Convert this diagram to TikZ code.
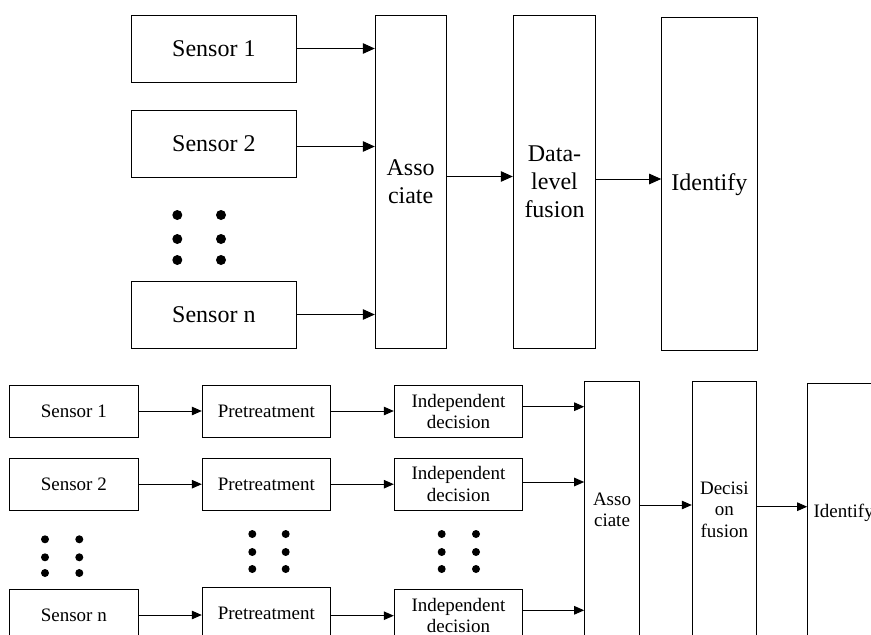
\documentclass[tikz,border=0pt]{standalone}
\usepackage{fontspec}
\setmainfont{Liberation Serif}
\usetikzlibrary{arrows.meta,calc}
\begin{document}
\begin{tikzpicture}[x=1pt,y=-1pt,
  box/.style={draw,line width=1pt,inner sep=0pt,align=center},
  bigtext/.style={font=\fontsize{24}{28}\selectfont},
  smalltext/.style={font=\fontsize{19}{21.5}\selectfont},
  bigarr/.style={line width=1pt,-{Triangle[length=12pt,width=10.5pt]}},
  smallarr/.style={line width=1pt,-{Triangle[length=10pt,width=8.5pt]}},
  dot/.style={fill=black}]
\useasboundingbox (0,0) rectangle (871,635);

% ---------- data-level fusion ----------
\node[box,bigtext,minimum width=164.3pt,minimum height=67pt] (s1) at (213.85,48.5) {Sensor 1};
\node[box,bigtext,minimum width=164.3pt,minimum height=67pt] (s2) at (213.85,143.5) {Sensor 2};
\node[box,bigtext,minimum width=164.3pt,minimum height=67pt] (sn) at (213.85,314.5) {Sensor n};
\node[box,bigtext,minimum width=70.7pt,minimum height=333pt] (as) at (410.65,181.5) {Asso\\ciate};
\node[box,bigtext,minimum width=82.4pt,minimum height=333pt] (dl) at (554.5,181.5) {Data-\\level\\fusion};
\node[box,bigtext,minimum width=95.3pt,minimum height=333pt] (id) at (709.35,184.2) {Identify};

\foreach \x in {177.3,221}
  \foreach \y in {215,239,260}
    \fill[dot] (\x,\y) circle (5pt);

\draw[bigarr] (s1.east) -- (s1.east -| as.west);
\draw[bigarr] ($(s2.east)+(0,3)$) coordinate (a2) -- (a2 -| as.west);
\draw[bigarr] (sn.east) -- (sn.east -| as.west);
\draw[bigarr] ($(as.east)+(0,-5)$) coordinate (a3) -- (a3 -| dl.west);
\draw[bigarr] ($(dl.east)+(0,-2.5)$) coordinate (a4) -- (a4 -| id.west);

% ---------- decision-level fusion ----------
\node[box,smalltext,minimum width=129pt,minimum height=52pt] (bs1) at (73.8,411) {Sensor 1};
\node[box,smalltext,minimum width=129pt,minimum height=52pt] (bs2) at (73.8,484.2) {Sensor 2};
\node[box,smalltext,minimum width=129pt,minimum height=52pt] (bsn) at (73.8,615) {Sensor n};
\node[box,smalltext,minimum width=128pt,minimum height=52pt] (p1) at (266.3,411) {Pretreatment};
\node[box,smalltext,minimum width=128pt,minimum height=52pt] (p2) at (266.3,484.2) {Pretreatment};
\node[box,smalltext,minimum width=128pt,minimum height=52pt] (pn) at (266.3,613.3) {Pretreatment};
\node[box,smalltext,minimum width=128.4pt,minimum height=52pt] (d1) at (458.5,411.3) {Independent\\decision};
\node[box,smalltext,minimum width=128.4pt,minimum height=52pt] (d2) at (458.5,484) {Independent\\decision};
\node[box,smalltext,minimum width=128.4pt,minimum height=52pt] (dn) at (458.5,615.7) {Independent\\decision};
\node[box,smalltext,minimum width=54.6pt,minimum height=256.6pt] (bas) at (612,510) {Asso\\ciate};
\node[box,smalltext,minimum width=64pt,minimum height=255.6pt] (df) at (724.3,509.5) {Decisi\\on\\fusion};
\node[box,smalltext,minimum width=72pt,minimum height=260pt] (bid) at (843.7,513.3) {Identify};

\foreach \x in {45,79.3}
  \foreach \y in {539.3,557.3,573}
    \fill[dot] (\x,\y) circle (4pt);
\foreach \x in {252.3,285.7,441.7,476}
  \foreach \y in {534,552,569}
    \fill[dot] (\x,\y) circle (4pt);

\draw[smallarr] (bs1.east) -- (bs1.east -| p1.west);
\draw[smallarr] (bs2.east) -- (bs2.east -| p2.west);
\draw[smallarr] (bsn.east) -- (bsn.east -| pn.west);
\draw[smallarr] (p1.east) -- (p1.east -| d1.west);
\draw[smallarr] (p2.east) -- (p2.east -| d2.west);
\draw[smallarr] ($(pn.east)+(0,2.4)$) coordinate (b3) -- (b3 -| dn.west);
\draw[smallarr] ($(d1.east)+(0,-4.6)$) coordinate (c1) -- (c1 -| bas.west);
\draw[smallarr] ($(d2.east)+(0,-2)$) coordinate (c2) -- (c2 -| bas.west);
\draw[smallarr] ($(dn.east)+(0,-5.4)$) coordinate (c3) -- (c3 -| bas.west);
\draw[smallarr] ($(bas.east)+(0,-5)$) coordinate (e1) -- (e1 -| df.west);
\draw[smallarr] ($(df.east)+(0,-2.8)$) coordinate (e2) -- (e2 -| bid.west);
\end{tikzpicture}
\end{document}
